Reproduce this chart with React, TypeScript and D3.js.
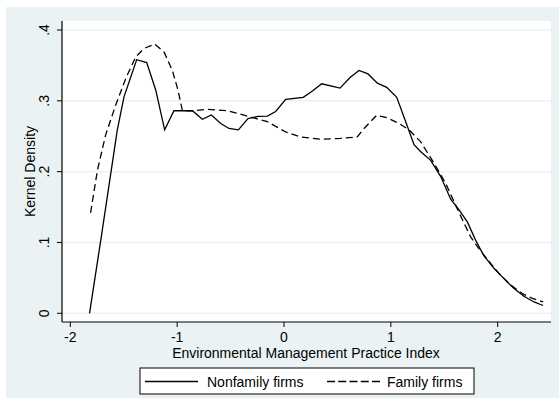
import React from "react";
import * as d3 from "d3";

const nonfamilyX = [-1.82, -1.715, -1.56, -1.497, -1.379, -1.285, -1.2, -1.117, -1.03, -0.857, -0.764, -0.68, -0.592, -0.515, -0.427, -0.337, -0.243, -0.155, -0.078, 0.016, 0.18, 0.266, 0.353, 0.524, 0.618, 0.702, 0.786, 0.874, 0.961, 1.055, 1.133, 1.217, 1.28, 1.373, 1.467, 1.56, 1.638, 1.716, 1.794, 1.872, 1.965, 2.059, 2.153, 2.246, 2.34, 2.425];
const nonfamilyY = [0.0, 0.103, 0.259, 0.306, 0.358, 0.354, 0.315, 0.259, 0.286, 0.286, 0.274, 0.28, 0.268, 0.261, 0.259, 0.275, 0.278, 0.2785, 0.285, 0.302, 0.305, 0.314, 0.324, 0.318, 0.333, 0.343, 0.338, 0.325, 0.319, 0.305, 0.273, 0.238, 0.228, 0.216, 0.193, 0.161, 0.146, 0.129, 0.103, 0.081, 0.0635, 0.049, 0.035, 0.024, 0.016, 0.011];

const familyX = [-1.81, -1.746, -1.669, -1.575, -1.48, -1.388, -1.31, -1.21, -1.123, -1.045, -0.992, -0.951, -0.842, -0.717, -0.53, -0.343, -0.155, 0.016, 0.156, 0.343, 0.53, 0.686, 0.749, 0.867, 0.968, 1.076, 1.17, 1.28, 1.404, 1.513, 1.591, 1.67, 1.747, 1.81, 1.904, 2.01, 2.12, 2.23, 2.325, 2.425];
const familyY = [0.142, 0.202, 0.252, 0.294, 0.332, 0.362, 0.374, 0.38, 0.369, 0.343, 0.315, 0.286, 0.286, 0.288, 0.286, 0.2785, 0.2705, 0.256, 0.249, 0.2457, 0.247, 0.249, 0.261, 0.2795, 0.276, 0.268, 0.259, 0.242, 0.212, 0.1835, 0.1576, 0.132, 0.108, 0.094, 0.076, 0.0565, 0.04, 0.028, 0.021, 0.016];

const xTicks = [-2, -1, 0, 1, 2];
const xTickLabels = ["-2", "-1", "0", "1", "2"];
const yTicks = [0, 0.1, 0.2, 0.3, 0.4];
const yTickLabels = ["0", ".1", ".2", ".3", ".4"];
const seriesNames = ["Nonfamily firms", "Family firms"];
const xTitle = "Environmental Management Practice Index";
const yTitle = "Kernel Density";

const W = 560;
const H = 410;
const BG = "#eaf2f3";
const FONT = "Arial, 'Liberation Sans', Helvetica, sans-serif";
const FS = 14;

export default function App() {
  const plotL = 62, plotR = 551, plotT = 21, plotB = 322;
  const x = d3.scaleLinear().domain([-2, 2]).range([70.3, 497.7]);
  const y = d3.scaleLinear().domain([0, 0.4]).range([313.3, 30]);
  const line = d3.line<[number, number]>().x((d) => x(d[0])).y((d) => y(d[1]));
  const nonfamily = nonfamilyX.map((v, i) => [v, nonfamilyY[i]] as [number, number]);
  const family = familyX.map((v, i) => [v, familyY[i]] as [number, number]);

  return (
    <svg width={W} height={H} style={{ position: "absolute", left: 0, top: 0 }} fontFamily={FONT}>
      <rect x={0} y={0} width={W} height={H} fill="#ffffff" />
      <rect x={6} y={7} width={553} height={391} fill={BG} />
      <rect x={plotL} y={plotT} width={plotR - plotL} height={plotB - plotT} fill="#ffffff" />
      {yTicks.map((t) => (
        <line key={"g" + t} x1={plotL} x2={plotR} y1={y(t)} y2={y(t)} stroke={BG} strokeWidth={1.5} />
      ))}
      <line x1={plotL} x2={plotL} y1={plotT} y2={plotB} stroke="#000" strokeWidth={1.2} />
      <line x1={plotL} x2={plotR} y1={plotB} y2={plotB} stroke="#000" strokeWidth={1.2} />
      {yTicks.map((t, i) => (
        <g key={"y" + t}>
          <line x1={plotL - 5} x2={plotL} y1={y(t)} y2={y(t)} stroke="#000" strokeWidth={1} />
          <text
            transform={`translate(${49},${y(t)}) rotate(-90)`}
            textAnchor="middle"
            fontSize={FS}
            fill="#000"
          >
            {yTickLabels[i]}
          </text>
        </g>
      ))}
      {xTicks.map((t, i) => (
        <g key={"x" + t}>
          <line x1={x(t)} x2={x(t)} y1={plotB} y2={plotB + 5} stroke="#000" strokeWidth={1} />
          <text x={x(t)} y={342} textAnchor="middle" fontSize={FS} fill="#000">
            {xTickLabels[i]}
          </text>
        </g>
      ))}
      <text transform={`translate(${35},${(plotT + plotB) / 2}) rotate(-90)`} textAnchor="middle" fontSize={FS} fill="#000">
        {yTitle}
      </text>
      <text x={306} y={358} textAnchor="middle" fontSize={FS} fill="#000">
        {xTitle}
      </text>
      <path d={line(nonfamily) || ""} fill="none" stroke="#000" strokeWidth={1.3} />
      <path d={line(family) || ""} fill="none" stroke="#000" strokeWidth={1.3} strokeDasharray="7,4" />
      <rect x={140} y={368} width={334} height={26} fill="#fff" stroke="#000" strokeWidth={1} />
      <line x1={145} x2={198} y1={381.5} y2={381.5} stroke="#000" strokeWidth={1.6} />
      <text x={207} y={386.5} fontSize={FS} fill="#000">{seriesNames[0]}</text>
      <line x1={327} x2={380} y1={381.5} y2={381.5} stroke="#000" strokeWidth={1.6} strokeDasharray="8,3.25" />
      <text x={387} y={386.5} fontSize={FS} fill="#000">{seriesNames[1]}</text>
    </svg>
  );
}
